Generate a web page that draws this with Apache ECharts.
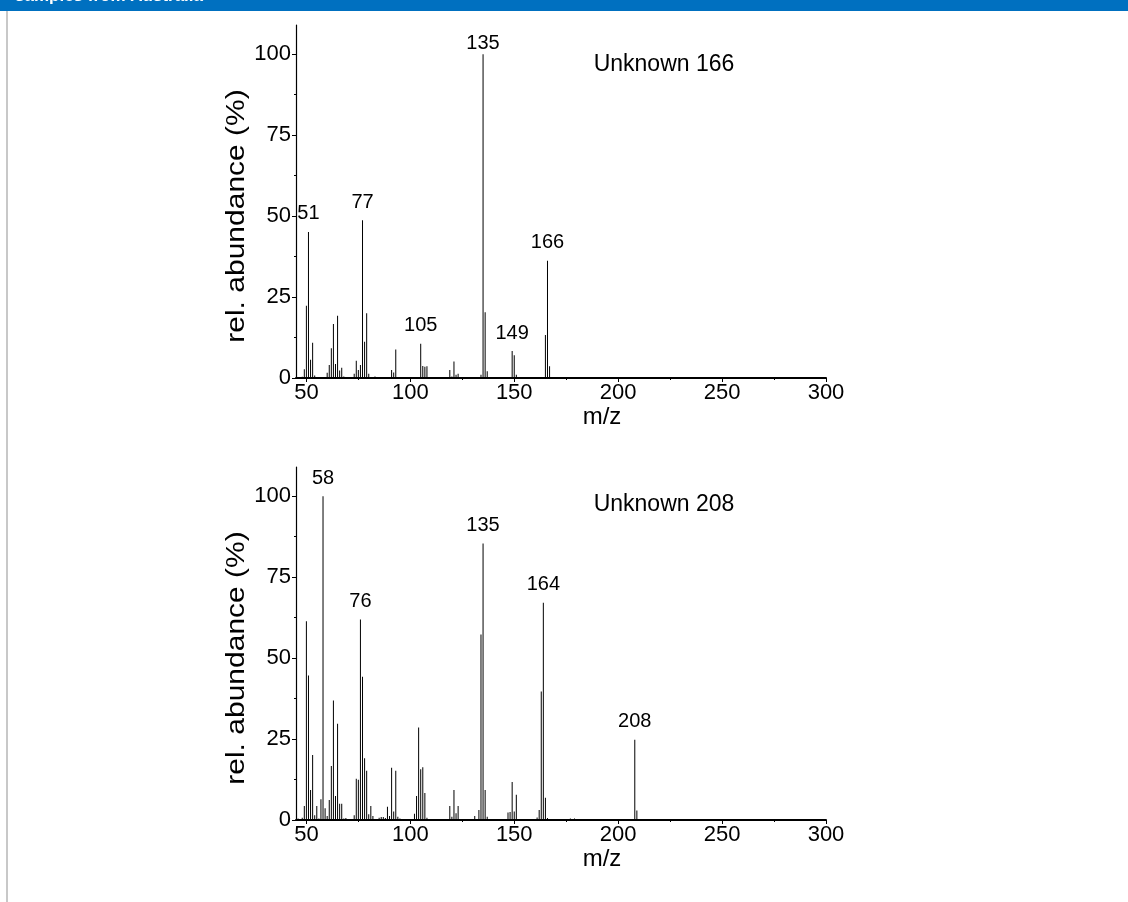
<!DOCTYPE html>
<html><head><meta charset="utf-8">
<script src="https://cdn.jsdelivr.net/npm/echarts@6/dist/echarts.min.js"></script>
<style>html,body{margin:0;padding:0;background:#fff}#c{width:1128px;height:902px}</style>
</head><body><div id="c"></div>
<script>
// ---- data ----
const mz166 = [48,49,50,51,52,53,54,60,61,62,63,64,65,66,67,68,73,74,75,76,77,78,79,80,83,89,91,92,93,94,105,106,107,108,113,119,120,121,122,123,134,135,136,137,149,150,151,165,166,167];
const ab166 = [0.4,2.7,22.3,45.1,5.6,10.9,0.8,1.6,4,9.2,16.7,4.3,19.2,2.3,3.2,0.5,1.3,5.3,2.5,4,48.7,11.2,20,1.3,0.5,0.3,2.5,1.7,8.8,0.3,10.6,3.7,3.5,3.6,0.3,2.5,0.5,5.1,1,1.3,1,100,20.3,2.1,8.3,7,1,13.3,36.2,3.6];
const peaks166 = [51,77,105,135,149,166];

const mz208 = [46,47,48,49,50,51,52,53,54,55,56,57,58,59,60,61,62,63,64,65,66,67,68,69,73,74,75,76,77,78,79,80,81,82,85,86,87,88,89,90,91,92,93,94,95,101,102,103,104,105,106,107,108,115,119,120,121,122,123,124,131,133,134,135,136,137,147,148,149,150,151,152,161,162,163,164,165,166,177,179,180,207,208,209];
const ab208 = [0.5,0.3,0.7,4.3,61.4,44.6,9.3,20.1,1.5,4.3,0.5,6.4,100,3.6,1.2,6.2,16.7,36.9,7.4,29.7,5.0,5.0,0.5,0.6,1.5,12.7,12.4,61.9,44.2,19.1,15.2,1.8,4.3,1.2,0.7,0.9,0.9,0.6,4.1,1.2,16.1,2.6,15.2,1.0,0.5,0.3,1.9,7.4,28.6,15.7,16.3,8.3,0.7,0.3,4.3,1.0,9.3,2.1,4.3,0.3,1.2,3.1,57.3,85.4,9.3,1.0,2.3,2.5,11.7,2.6,7.8,0.3,0.8,3.1,39.7,67.1,6.9,0.6,0.5,0.5,0.3,0.3,24.8,2.9];
const peaks208 = [58,76,135,164,208];

const xTicks = [50,100,150,200,250,300];
const xMinorTicks = [75,125,175,225,275];
const yTicks = [0,25,50,75,100];
const yMinorTicks = [12.5,37.5,62.5,87.5];
const titles = ['Unknown 166','Unknown 208'];
const xName = 'm/z';
const yName = 'rel. abundance (%)';
const headerText = 'samples from Australia';

// ---- chart ----
const FONT = 'Liberation Sans, Arial, sans-serif';
const chart = echarts.init(document.getElementById('c'), null, {renderer:'canvas'});
const grids = [{left:296, top:25, width:530, height:353}, {left:296, top:467, width:530, height:353}];
const xAxes = [], yAxes = [], series = [];
grids.forEach((g, i) => {
  xAxes.push({gridIndex:i, type:'value', min:45, max:300, position:'bottom',
    axisLine:{show:true, lineStyle:{color:'#000', width:2}},
    axisTick:{show:true, customValues:xTicks, length:4, lineStyle:{color:'#000', width:1}},
    axisLabel:{show:true, customValues:xTicks, color:'#000', fontSize:22, fontFamily:FONT, margin:4},
    splitLine:{show:false},
    name:xName, nameLocation:'middle', nameGap:20,
    nameTextStyle:{color:'#000', fontSize:24, fontFamily:FONT, padding:[0,0,0,82]}});
  xAxes.push({gridIndex:i, type:'value', min:45, max:300, position:'bottom',
    axisLine:{show:false}, axisTick:{show:true, customValues:xMinorTicks, length:2, lineStyle:{color:'#000'}},
    axisLabel:{show:false}, splitLine:{show:false}});
  yAxes.push({gridIndex:i, type:'value', min:0, max:109, position:'left',
    axisLine:{show:true, lineStyle:{color:'#000', width:1.2}},
    axisTick:{show:true, customValues:yTicks, length:4, lineStyle:{color:'#000'}},
    axisLabel:{show:true, customValues:yTicks, color:'#000', fontSize:22, fontFamily:FONT, margin:5},
    splitLine:{show:false}});
  yAxes.push({gridIndex:i, type:'value', min:0, max:109, position:'left',
    axisLine:{show:false}, axisTick:{show:true, customValues:yMinorTicks, length:2, lineStyle:{color:'#000'}},
    axisLabel:{show:false}, splitLine:{show:false}});
});
function makeData(mz, ab, peaks, tight){
  return mz.map((m, k) => {
    const item = {value:[m, ab[k]]};
    if (peaks.includes(m)) item.label = {show:true, position:'top', distance:(m === tight ? 1 : 8), formatter:String(m), color:'#000', fontSize:20, fontFamily:FONT};
    return item;
  });
}
series.push({type:'bar', xAxisIndex:0, yAxisIndex:0, barWidth:1, itemStyle:{color:'#000'}, data:makeData(mz166, ab166, peaks166, 135), animation:false});
series.push({type:'bar', xAxisIndex:2, yAxisIndex:2, barWidth:1, itemStyle:{color:'#000'}, data:makeData(mz208, ab208, peaks208, null), animation:false});

function yLabel(cy){
  return {type:'text', x:237, y:cy, rotation:Math.PI/2, scaleX:1.2, scaleY:1,
    style:{text:yName, fill:'#000', fontSize:25, fontFamily:FONT, align:'center', verticalAlign:'middle'}};
}

chart.setOption({
  animation:false,
  backgroundColor:'#fff',
  grid:grids, xAxis:xAxes, yAxis:yAxes, series:series,
  graphic:[
    {type:'rect', shape:{x:0, y:0, width:1128, height:11}, style:{fill:'#0070c0'}},
    {type:'text', x:15, y:5, style:{text:headerText, fill:'#fff', fontSize:17, fontWeight:'bold', fontFamily:FONT, verticalAlign:'bottom', align:'left'}},
    {type:'rect', shape:{x:6, y:11, width:2, height:891}, style:{fill:'#c8c8c8'}},
    {type:'text', x:664, y:65, style:{text:titles[0], fill:'#000', fontSize:23, fontFamily:FONT, align:'center', verticalAlign:'middle'}},
    {type:'text', x:664, y:505, style:{text:titles[1], fill:'#000', fontSize:23, fontFamily:FONT, align:'center', verticalAlign:'middle'}},
    yLabel(216), yLabel(658)
  ]
});
</script></body></html>
